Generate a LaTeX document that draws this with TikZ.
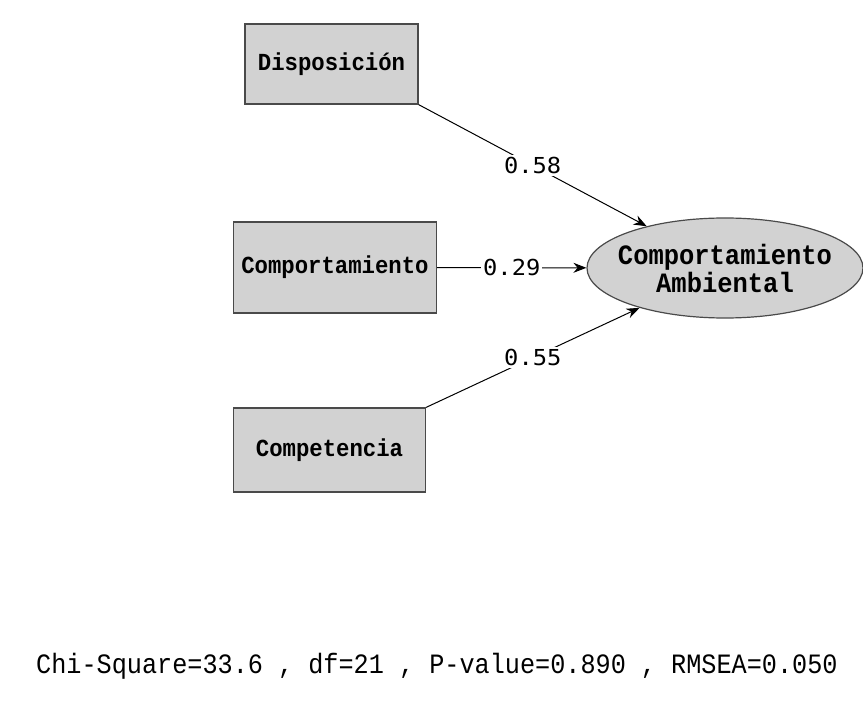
\documentclass[tikz,border=0pt]{standalone}
\usepackage{fontspec}
\usetikzlibrary{shapes.geometric,arrows.meta}
\newfontfamily\boxfont{Liberation Mono}[BoldFont={Liberation Mono Bold},FakeStretch=0.91]
\newfontfamily\fitfont{Liberation Mono}[FakeStretch=0.9]
\newfontfamily\labfont{DejaVu Sans Mono}[FakeStretch=1.08]
\definecolor{boxfill}{HTML}{D2D2D2}
\definecolor{boxline}{HTML}{4A4A4A}
\tikzset{
  obs/.style={draw=boxline, line width=1.2pt, fill=boxfill, inner sep=0pt,
    font=\boxfont\bfseries\fontsize{24.5}{26}\selectfont},
  latent/.style={ellipse, draw=boxline, line width=1.2pt, fill=boxfill, inner sep=0pt,
    minimum width=276pt, minimum height=100pt},
  latentlabel/.style={align=center, inner sep=0pt,
    font=\boxfont\bfseries\fontsize{28}{28}\selectfont},
  path/.style={line width=1pt, -{Stealth[length=13pt,width=10pt]}},
  coef/.style={fill=white, inner sep=2pt, font=\labfont\fontsize{22}{24}\selectfont},
}
\begin{document}
\begin{tikzpicture}[x=1pt, y=-1pt]
\useasboundingbox[fill=white] (0,0) rectangle (863,719);
% observed variables
\node[obs, minimum width=173pt, minimum height=80pt] (disp) at (331.5,64) {Disposición};
\node[obs, minimum width=203pt, minimum height=91pt] (comp) at (335,267.5) {Comportamiento};
\node[obs, minimum width=192pt, minimum height=84pt] (compet) at (329.5,450) {Competencia};
% latent variable
\node[latent] (amb) at (725,268) {};
\node[latentlabel] (ambtext) at (amb) {Comportamiento\\Ambiental};
% structural paths
\draw[path] (disp.south east) -- node[coef] {0.58} (amb);
\draw[path] (comp) -- node[coef] {0.29} (amb);
\draw[path] (compet.north east) -- node[coef] {0.55} (amb);
% fit statistics
\node[font=\fitfont\fontsize{28}{30}\selectfont, anchor=west, inner sep=0pt] (fit) at (36,666)
  {Chi-Square=33.6 , df=21 , P-value=0.890 , RMSEA=0.050};
\end{tikzpicture}
\end{document}
